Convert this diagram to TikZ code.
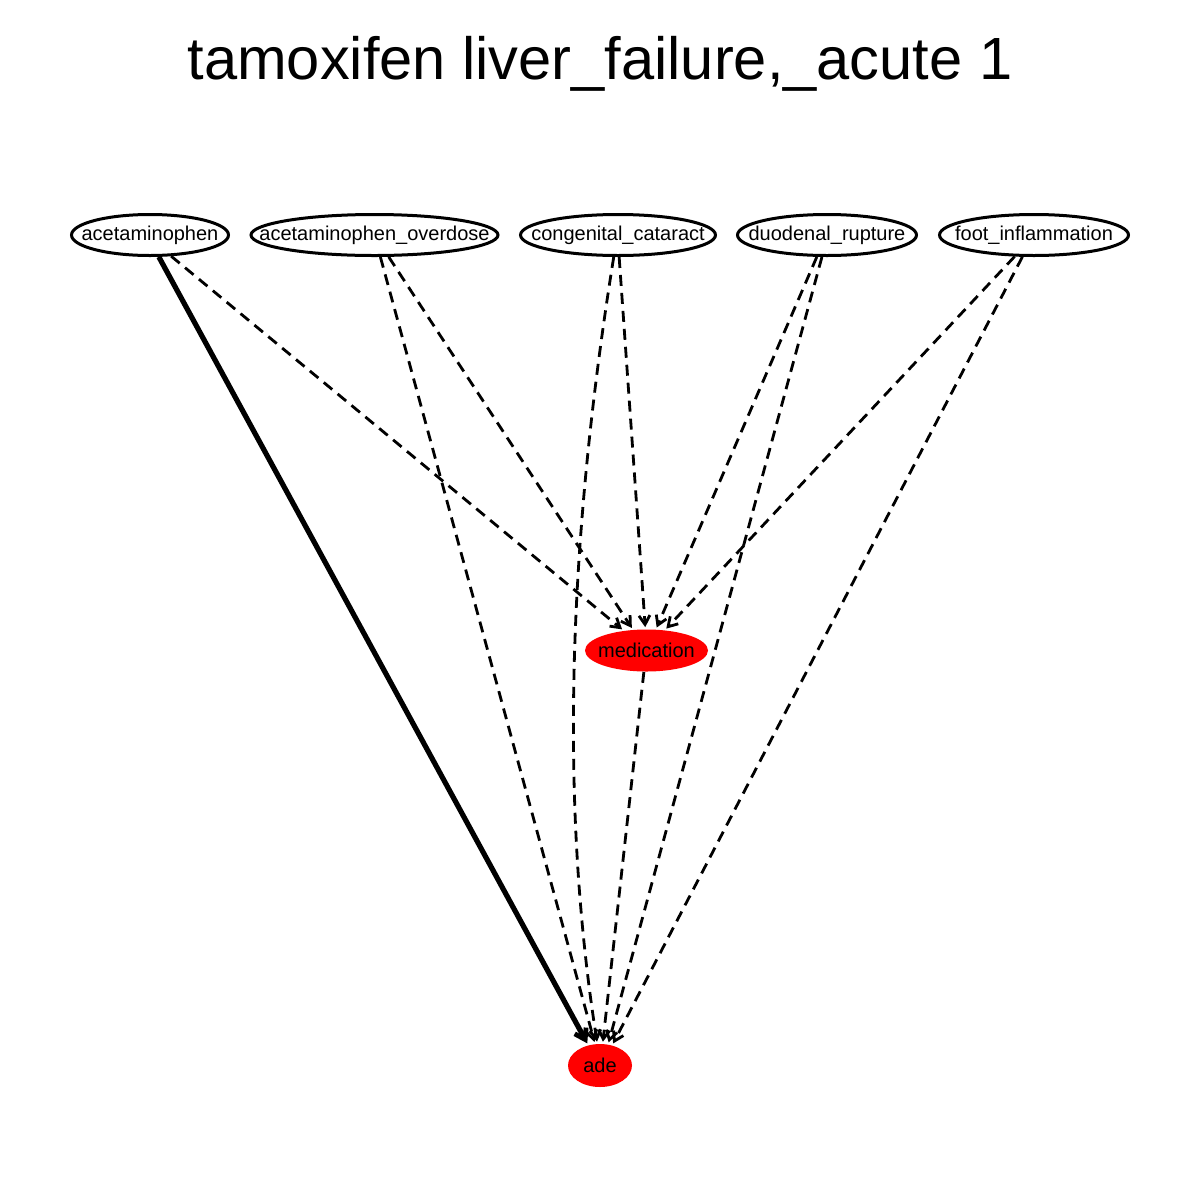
\documentclass[tikz,border=0pt]{standalone}
\usepackage{fontspec}
\setmainfont{Liberation Sans}
\usetikzlibrary{shapes.geometric,arrows.meta}
\begin{document}
\begin{tikzpicture}[x=0.5pt,y=-0.5pt,
  lbl/.style={font=\fontsize{10pt}{11pt}\selectfont,inner sep=0pt},
  src/.style={ellipse,draw=black,line width=1.5pt,inner sep=0pt,minimum height=20.5pt},
  tgt/.style={ellipse,fill=red,draw=none,inner sep=0pt},
  dedge/.style={line width=1.4pt,dash pattern=on 5.5pt off 3.5pt,
    -{Straight Barb[length=4.5pt,width=5.5pt,line width=1.4pt]},shorten >=1pt},
  sedge/.style={line width=2.6pt,
    -{Straight Barb[length=5pt,width=6.5pt,line width=2.4pt]},shorten >=1pt}]
\useasboundingbox (0,0) rectangle (1200,1200);
\fill[white] (0,0) rectangle (1200,1200);
\node[font=\fontsize{29.8pt}{36pt}\selectfont] (title) at (600,64) {tamoxifen liver\_failure,\_acute 1};
\node[src,minimum width=78.5pt,label={[lbl]center:acetaminophen}] (a) at (150,235) {};
\node[src,minimum width=123.5pt,label={[lbl]center:acetaminophen\_overdose}] (b) at (374.5,235) {};
\node[src,minimum width=97.5pt,label={[lbl]center:congenital\_cataract}] (c) at (618,235) {};
\node[src,minimum width=89.5pt,label={[lbl]center:duodenal\_rupture}] (d) at (827,235) {};
\node[src,minimum width=94.5pt,label={[lbl]center:foot\_inflammation}] (f) at (1034,235) {};
\node[tgt,minimum width=61.5pt,minimum height=21pt,label={[lbl]center:medication}] (m) at (646.5,650.5) {};
\node[tgt,minimum width=32pt,minimum height=21.5pt,label={[lbl]center:ade}] (ade) at (600,1065.5) {};
% edges to medication
\draw[dedge] (a.-45) -- (m.139);
\draw[dedge] (b.-57) -- (m.123);
\draw[dedge] (c.-87) -- (m.93);
\draw[dedge] (d.-115) -- (m.66);
\draw[dedge] (f.-132) -- (m.48);
% edges to ade
\draw[sedge] (a.-68) -- (ade.120);
\draw[dedge] (b.-75) -- (ade.103);
\draw[dedge] (c.-101) .. controls (565,560) and (562,820) .. (ade.97);
\draw[dedge] (m.-97) -- (ade.83);
\draw[dedge] (d.-103) -- (ade.69);
\draw[dedge] (f.-118) -- (ade.59);
\end{tikzpicture}
\end{document}
